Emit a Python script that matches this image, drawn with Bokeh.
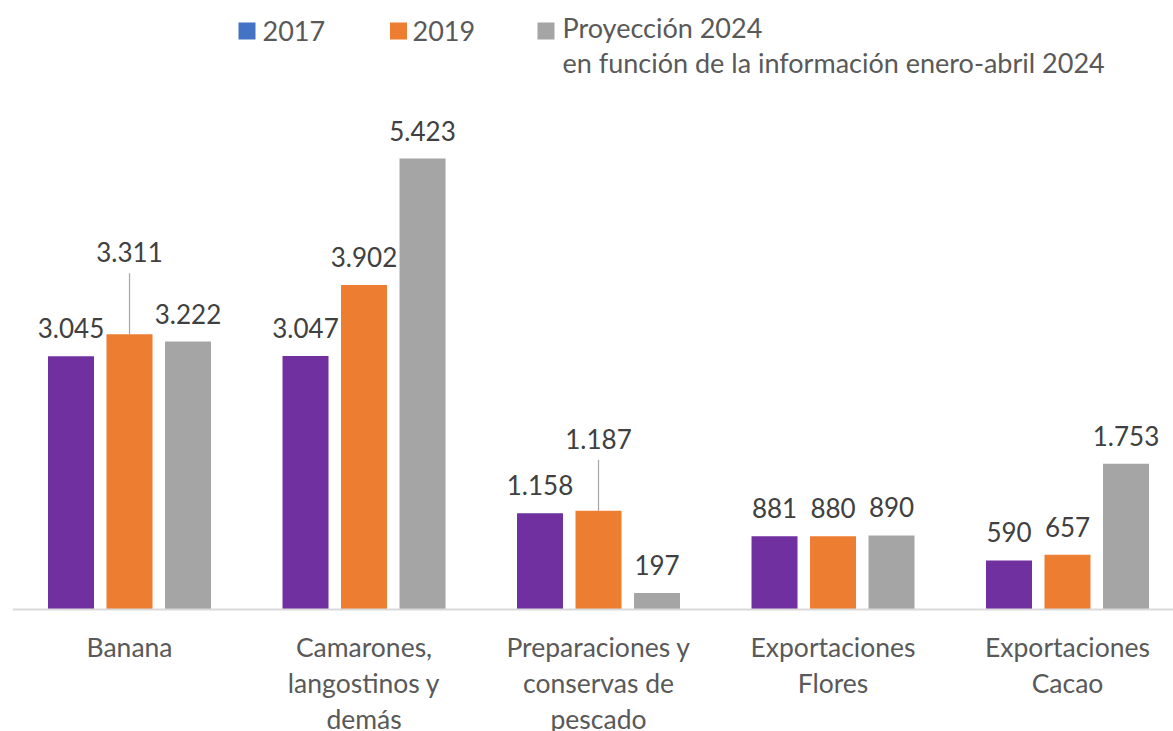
from bokeh.plotting import figure
from bokeh.models import Range1d, Span, ColumnDataSource
from bokeh.core.properties import value
from bokeh.embed import file_html
from bokeh.resources import INLINE

# ---- data ----
categories = ["Banana", "Camarones,\nlangostinos y\ndemás",
              "Preparaciones y\nconservas de\npescado",
              "Exportaciones\nFlores", "Exportaciones\nCacao"]
series_names = ["2017", "2019", "Proyección 2024\nen función de la información enero-abril 2024"]
v2017 = [3045, 3047, 1158, 881, 590]
v2019 = [3311, 3902, 1187, 880, 657]
v2024 = [3222, 5423, 197, 890, 1753]

# ---- style ----
bar_colors = ["#7030A0", "#ED7D31", "#A5A5A5"]
legend_colors = ["#4472C4", "#ED7D31", "#A5A5A5"]
# extra upward displacement (px) of data labels that use a leader line
extra_px = [[0, 0, 0, 0, 0], [54, 0, 44, 0, 0], [0, 0, 0, 0, 0]]
FONT = "Lato"
W, H = 1173, 731
BL, BT = 12, 8
frame_w, frame_h = W - BL, H - BT
x0, x1 = -0.499, -0.499 + frame_w / 234.5
yppu = 0.08316
y_top = (609 - BT) / yppu
y_bot = -(731 - 609) / yppu


def fmt(v):
    return f"{v:,}".replace(",", ".")


def px_to_x(px):  # page x -> data x
    return x0 + (px - BL) / 234.5


def py_to_y(py):  # page y -> data y
    return (609 - py) / yppu


p = figure(width=W, height=H, output_backend="svg", toolbar_location=None,
           x_range=Range1d(x0, x1), y_range=Range1d(y_bot, y_top),
           x_axis_location=None, y_axis_location=None,
           min_border_left=BL, min_border_right=0, min_border_top=BT, min_border_bottom=0)
p.grid.visible = False
p.outline_line_color = None
p.background_fill_color = "white"

bw = 46 / 234.5
off = 58.5 / 234.5
xs = list(range(len(categories)))
for k, vals in enumerate([v2017, v2019, v2024]):
    xx = [x + (k - 1) * off for x in xs]
    src = ColumnDataSource(dict(x=xx, top=vals, lab=[fmt(v) for v in vals],
                                yoff=[-(28 + e) for e in extra_px[k]]))
    p.vbar(x="x", top="top", bottom=0, width=bw, source=src,
           fill_color=bar_colors[k], line_color=None)
    # leader lines
    for xi, v, e in zip(xx, vals, extra_px[k]):
        if e > 0:
            p.segment(x0=[xi], y0=[v], x1=[xi], y1=[v + (e + 7) / yppu],
                      line_color="#A6A6A6", line_width=1.2)
    p.text(x="x", y="top", text="lab", y_offset="yoff", source=src,
           text_font=value(FONT), text_font_size="26px", text_color="#404040",
           text_align="center", text_baseline="middle")

p.add_layout(Span(location=0, dimension="width", line_color="#D9D9D9", line_width=2))

# category labels
p.text(x=xs, y=[py_to_y(630)] * len(xs), text=categories,
       text_font=value(FONT), text_font_size="26.5px", text_color="#595959",
       text_align="center", text_baseline="top", text_line_height=1.13)

# legend
sw_px = [246.5, 398, 545.5]
tx_px = [262, 412, 562]
lg_off = [7, 7, -3]
p.rect(x=[px_to_x(s) for s in sw_px], y=[py_to_y(30.5)] * 3, width=17, height=17,
       width_units="screen", height_units="screen",
       fill_color=legend_colors, line_color=None)
p.text(x=[px_to_x(t) for t in tx_px], y=[py_to_y(28) + 15 / yppu] * 3, text=series_names,
       y_offset=lg_off,
       text_font=value(FONT), text_font_size="27px", text_color="#595959",
       text_align="left", text_baseline="top", text_line_height=1.09)

open("out.html", "w").write(file_html(p, INLINE))
